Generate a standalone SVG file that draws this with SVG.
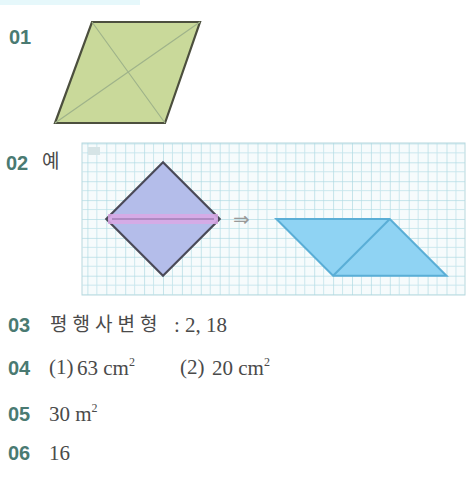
<svg xmlns="http://www.w3.org/2000/svg" width="468" height="478" viewBox="0 0 468 478">
<defs>
<pattern id="grid" patternUnits="userSpaceOnUse" x="163" y="219" width="18.9" height="18.9">
<path d="M0 0H18.9M0 9.45H18.9M0 0V18.9M9.45 0V18.9" fill="none" stroke="#c6e6ec" stroke-width="0.9"/>
<path d="M0 0H18.9M0 0V18.9" fill="none" stroke="#a8d6df" stroke-width="1"/>
</pattern>
</defs>
<style>
.num{font-family:"Liberation Sans","Noto Sans",sans-serif;font-size:20px;fill:#4a7a72;font-weight:bold}
.ans{font-family:"Liberation Serif","Noto Sans CJK KR",serif;font-size:21px;fill:#4a4a4a}
.ko{font-family:"Noto Sans CJK KR",serif;font-size:19px;fill:#4a4a4a}
</style>
<rect x="0" y="0" width="140" height="5" fill="#e6f8fb"/>
<g id="q01">
<text class="num" x="9" y="44">01</text>
<polygon points="92,22 200,22 165,123 55,123" fill="#c9d99a" stroke="#4c4f3e" stroke-width="2.2"/>
<path d="M92,22 L165,123 M200,22 L55,123" stroke="#9fb38a" stroke-width="1.2" fill="none"/>
</g>
<g id="q02">
<text class="num" x="6" y="170">02</text>
<text class="ko" x="42" y="168" font-size="16">예</text>
<rect x="82" y="143" width="383" height="152" fill="#f6fbfc" stroke="#b8d8dd" stroke-width="1"/>
<rect x="82" y="143" width="383" height="152" fill="url(#grid)"/>
<rect x="88" y="147" width="12" height="8" fill="#d6e4e6"/>
<g id="diamond">
<polygon points="163,162.3 219.7,219 163,275.7 106.3,219" fill="#b4bdea" stroke="#4a4a58" stroke-width="2.2"/>
<line x1="108" y1="219" x2="218" y2="219" stroke="#dba8e6" stroke-width="10" opacity="0.85"/>
<line x1="112" y1="219" x2="214" y2="219" stroke="#8a6aa0" stroke-width="1.2"/>
</g>
<text x="233" y="226" font-family="DejaVu Sans,sans-serif" font-size="20" fill="#999">⇒</text>
<g id="para">
<polygon points="276.4,219 389.8,219 446.5,275.7 333.1,275.7" fill="#8fd3f3" stroke="#5aaed6" stroke-width="2"/>
<line x1="389.8" y1="219" x2="333.1" y2="275.7" stroke="#5aaed6" stroke-width="2"/>
</g>
</g>
<g id="q03">
<text class="num" x="8" y="332">03</text>
<text class="ko" x="50" y="331" letter-spacing="5">평행사변형</text>
<text class="ans" x="174" y="332">: 2, 18</text>
</g>
<g id="q04">
<text class="num" x="8" y="375">04</text>
<text class="ans" x="49" y="374" font-size="16">(1)</text>
<text class="ans" x="77" y="375">63 cm<tspan font-size="12" dy="-9">2</tspan></text>
<text class="ans" x="180" y="374" font-size="16">(2)</text>
<text class="ans" x="212" y="375">20 cm<tspan font-size="12" dy="-9">2</tspan></text>
</g>
<g id="q05">
<text class="num" x="8" y="421">05</text>
<text class="ans" x="49" y="421">30 m<tspan font-size="12" dy="-9">2</tspan></text>
</g>
<g id="q06">
<text class="num" x="8" y="460">06</text>
<text class="ans" x="49" y="460">16</text>
</g>
</svg>
